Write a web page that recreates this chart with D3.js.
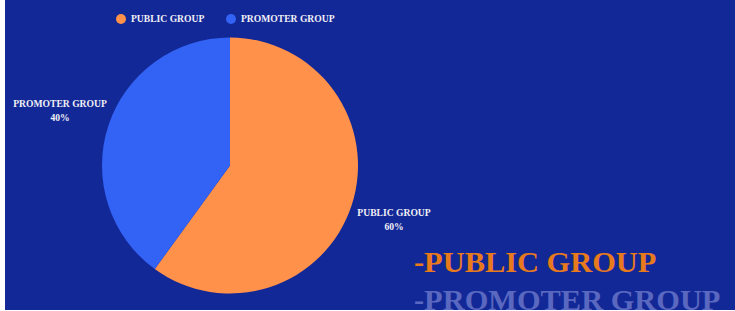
<!DOCTYPE html>
<html>
<head>
<meta charset="utf-8">
<script src="https://cdn.jsdelivr.net/npm/d3@7"></script>
<style>
  body { margin: 0; background: #fff; }
  svg { display: block; }
  .lbl { font-family: 'Liberation Serif', serif; font-weight: bold; font-size: 9.6px; fill: #f0f0f5; }
</style>
</head>
<body>
<script>
var groups = ['PUBLIC GROUP', 'PROMOTER GROUP'];
var shares = [60, 40];
var colors = ['#ff914a', '#3263f5'];

var width = 735, height = 311;

var svg = d3.select('body').append('svg')
    .attr('width', width)
    .attr('height', height);

svg.append('rect')
    .attr('x', 5).attr('y', 0)
    .attr('width', 730).attr('height', 310)
    .attr('fill', '#132897');

var data = groups.map(function(g, i) { return {name: g, value: shares[i]}; });
var color = d3.scaleOrdinal().domain(groups).range(colors);

// legend
var legend = svg.selectAll('.legend')
    .data(groups)
  .enter().append('g')
    .attr('class', 'legend')
    .attr('transform', function(d, i) { return 'translate(' + [121, 231][i] + ',19)'; });

legend.append('circle')
    .attr('r', 5)
    .attr('fill', color);

legend.append('text')
    .attr('class', 'lbl')
    .attr('x', 10)
    .attr('dy', '0.35em')
    .text(function(d) { return d; });

// pie
var r = 128;
var g = svg.append('g').attr('transform', 'translate(230,165.5)');

var pie = d3.pie().sort(null).value(function(d) { return d.value; });
var arc = d3.arc().innerRadius(0).outerRadius(r);
var arcs = pie(data);

g.selectAll('path')
    .data(arcs)
  .enter().append('path')
    .attr('d', arc)
    .attr('fill', function(d) { return color(d.data.name); });

// outside labels
var labelPos = [[164, 50], [-170, -59]];
arcs.forEach(function(d, i) {
  var t = g.append('text')
      .attr('class', 'lbl')
      .attr('text-anchor', 'middle')
      .attr('transform', 'translate(' + labelPos[i] + ')');
  t.append('tspan').attr('x', 0).text(d.data.name);
  t.append('tspan').attr('x', 0).attr('dy', 14).text(d.data.value + '%');
});

// big text legend
var big = ['#e87a1e', '#5a68c0'];
svg.selectAll('.big')
    .data(groups)
  .enter().append('text')
    .attr('class', 'big')
    .attr('x', 414)
    .attr('y', function(d, i) { return 272 + i * 38; })
    .attr('font-family', "'Liberation Serif', serif")
    .attr('font-weight', 'bold')
    .attr('font-size', 30.4)
    .attr('fill', function(d, i) { return big[i]; })
    .text(function(d) { return '-' + d; });
</script>
</body>
</html>
